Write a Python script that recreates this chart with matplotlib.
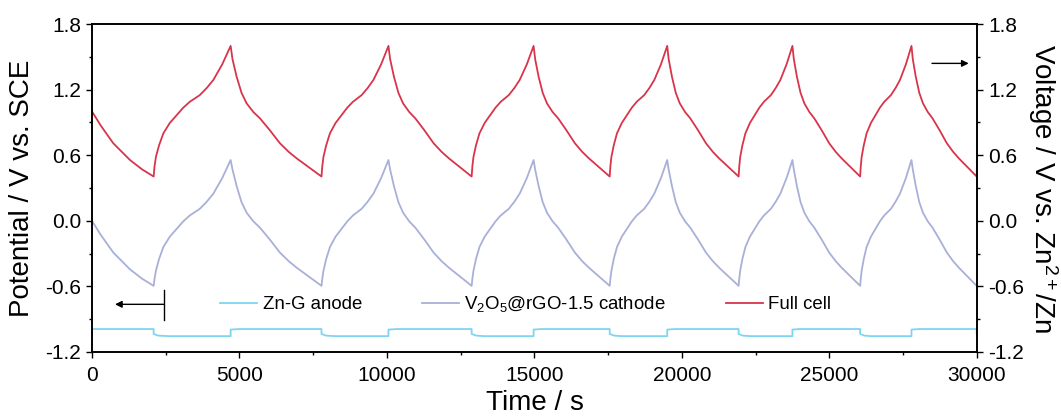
import matplotlib
matplotlib.use("Agg")
import matplotlib.pyplot as plt
from matplotlib.ticker import MultipleLocator

plt.rcParams['font.family'] = ['Liberation Sans', 'DejaVu Sans']
plt.rcParams['mathtext.fontset'] = 'custom'
plt.rcParams['mathtext.rm'] = 'Liberation Sans'
plt.rcParams['mathtext.it'] = 'Liberation Sans:italic'
plt.rcParams['axes.unicode_minus'] = False

# --- data ---
# full cell (V vs Zn2+/Zn), first partial discharge
start_t = [0, 300, 722, 1288, 1700, 2090]
start_cell = [1.00, 0.87, 0.709, 0.556, 0.47, 0.405]
start_cathode = [0.0, -0.13, -0.29, -0.444, -0.53, -0.595]

# charge segments (times in s, one list per cycle)
charge_t = [
    [2090, 2121, 2168, 2273, 2419, 2638, 2873, 3095, 3317, 3656, 3891, 4113, 4413, 4700],
    [7780, 7807, 7848, 7939, 8066, 8257, 8461, 8654, 8847, 9142, 9346, 9539, 9800, 10050],
    [12870, 12895, 12933, 13017, 13135, 13311, 13500, 13679, 13857, 14130, 14319, 14498, 14739, 14970],
    [17550, 17573, 17609, 17687, 17796, 17960, 18135, 18301, 18467, 18720, 18896, 19061, 19286, 19500],
    [21920, 21942, 21975, 22048, 22150, 22303, 22468, 22623, 22778, 23015, 23179, 23334, 23544, 23745],
    [26040, 26061, 26092, 26162, 26259, 26405, 26562, 26710, 26858, 27084, 27241, 27389, 27589, 27780],
]
charge_cell = [0.405, 0.50, 0.586, 0.69, 0.80, 0.895, 0.967, 1.035, 1.089, 1.15, 1.215, 1.288, 1.43, 1.60]
charge_cathode = [-0.595, -0.53, -0.455, -0.35, -0.24, -0.145, -0.073, -0.005, 0.049, 0.11, 0.175, 0.248, 0.39, 0.556]

# discharge segments
discharge_t = [
    [4700, 4762, 4903, 5070, 5242, 5470, 5695, 6024, 6372, 6671, 6939, 7349, 7780],
    [10050, 10106, 10236, 10388, 10546, 10755, 10961, 11263, 11581, 11855, 12100, 12475, 12870],
    [14970, 15022, 15140, 15280, 15424, 15615, 15803, 16079, 16371, 16621, 16846, 17189, 17550],
    [19500, 19548, 19660, 19790, 19926, 20105, 20282, 20541, 20814, 21049, 21259, 21581, 21920],
    [23745, 23791, 23896, 24020, 24149, 24319, 24486, 24732, 24991, 25214, 25413, 25719, 26040],
    [27780, 27824, 27926, 28045, 28169, 28333, 28494, 28730, 28980, 29194, 29387, 29681, 29990],
]
discharge_cell = [1.60, 1.48, 1.318, 1.17, 1.074, 0.995, 0.937, 0.83, 0.709, 0.63, 0.571, 0.49, 0.405]
discharge_cathode = [0.556, 0.47, 0.318, 0.17, 0.074, -0.005, -0.063, -0.17, -0.291, -0.37, -0.429, -0.51, -0.595]

end_t = [30000]
end_cell = [0.52]

# Zn-G anode (V vs SCE), stepped
anode_t = [0, 2090, 2090, 2240, 2600, 4700, 4700, 5000,
           7780, 7780, 7930, 8250, 10050, 10050, 10350,
           12870, 12870, 13020, 13300, 14970, 14970, 15250,
           17550, 17550, 17700, 17950, 19500, 19500, 19780,
           21920, 21920, 22060, 22300, 23745, 23745, 24000,
           26040, 26040, 26180, 26400, 27780, 27780, 28050,
           29990, 29990, 30000]
anode_v = [-0.99, -0.99, -1.035, -1.05, -1.055, -1.055, -0.995, -0.99,
           -0.99, -1.035, -1.05, -1.055, -1.055, -0.995, -0.99,
           -0.99, -1.035, -1.05, -1.055, -1.055, -0.995, -0.99,
           -0.99, -1.035, -1.05, -1.055, -1.055, -0.995, -0.99,
           -0.99, -1.035, -1.05, -1.055, -1.055, -0.995, -0.99,
           -0.99, -1.035, -1.05, -1.055, -1.055, -0.995, -0.99,
           -0.99, -1.035, -1.035]

# build full series
cell_t = list(start_t)
cell_v = list(start_cell)
cath_t = list(start_t)
cath_v = list(start_cathode)
for ct, dt in zip(charge_t, discharge_t):
    cell_t += ct[1:] + dt[1:]
    cell_v += charge_cell[1:] + discharge_cell[1:]
    cath_t += ct[1:] + dt[1:]
    cath_v += charge_cathode[1:] + discharge_cathode[1:]
cell_t += end_t
cell_v += end_cell

red = '#D8344B'
lav = '#A9B0D8'
blue = '#7FD4F2'

fig = plt.figure(figsize=(10.61, 4.17), dpi=100)
ax = fig.add_axes([0.0867, 0.1559, 0.8341, 0.7865])

ax.plot(anode_t, anode_v, color=blue, lw=1.3, label='Zn-G anode')
ax.plot(cath_t, cath_v, color=lav, lw=1.3, label=r'V$\mathregular{_2}$O$\mathregular{_5}$@rGO-1.5 cathode')
ax.plot(cell_t, cell_v, color=red, lw=1.3, label='Full cell')

ax.set_xlim(0, 30000)
ax.set_ylim(-1.2, 1.8)
ax.xaxis.set_major_locator(MultipleLocator(5000))
ax.xaxis.set_minor_locator(MultipleLocator(2500))
ax.yaxis.set_major_locator(MultipleLocator(0.6))
ax.yaxis.set_minor_locator(MultipleLocator(0.3))
ax.yaxis.set_major_formatter(matplotlib.ticker.FormatStrFormatter('%.1f'))
ax.tick_params(which='major', direction='out', length=4, width=1, labelsize=15, pad=4)
ax.tick_params(axis='x', pad=6)
ax.tick_params(which='minor', direction='out', length=2, width=1)
ax.tick_params(top=False, right=False)
for s in ax.spines.values():
    s.set_linewidth(1.2)

ax2 = ax.twinx()
ax2.set_ylim(-1.2, 1.8)
ax2.yaxis.set_major_locator(MultipleLocator(0.6))
ax2.yaxis.set_minor_locator(MultipleLocator(0.3))
ax2.yaxis.set_major_formatter(matplotlib.ticker.FormatStrFormatter('%.1f'))
ax2.tick_params(which='major', direction='out', length=4, width=1, labelsize=15, pad=4)
ax2.tick_params(which='minor', direction='out', length=2, width=1)
for s in ax2.spines.values():
    s.set_linewidth(1.2)

ax.set_xlabel('Time / s', fontsize=20, labelpad=4)
ax.set_ylabel('Potential / V vs. SCE', fontsize=20)
ax.yaxis.set_label_coords(-0.064, 0.5)
ax2.set_ylabel(r'Voltage / V vs. Zn$\mathregular{^{2+}}$/Zn', fontsize=20, rotation=270, va='baseline')
ax2.yaxis.set_label_coords(1.0645, 0.5)

ax.legend(loc='center left', bbox_to_anchor=(0.1446, 0.146), ncol=3, frameon=False,
          fontsize=13.4, handlelength=2.0, handletextpad=0.3, columnspacing=3.2,
          borderpad=0, borderaxespad=0)

# direction arrows
ax.annotate('', xy=(780, -0.764), xytext=(2430, -0.764),
            arrowprops=dict(arrowstyle='-|>', color='black', lw=1, mutation_scale=10, shrinkA=0, shrinkB=0))
ax.plot([2430, 2430], [-0.634, -0.908], color='black', lw=1)
ax.annotate('', xy=(29720, 1.44), xytext=(28475, 1.44),
            arrowprops=dict(arrowstyle='-|>', color='black', lw=1, mutation_scale=10, shrinkA=0, shrinkB=0))

fig.savefig('out.png', dpi=100)
